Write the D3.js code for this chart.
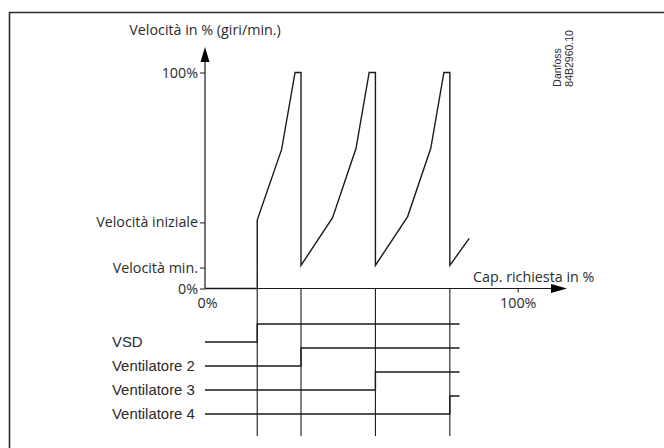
<!DOCTYPE html>
<html><head><meta charset="utf-8">
<script src="https://cdn.jsdelivr.net/npm/d3@7"></script>
<style>
html,body{margin:0;padding:0;background:#fff;}
svg{display:block;}
</style></head>
<body>
<svg id="chart" width="664" height="448"></svg>
<script>
// ---- data ----
const speedX = [0, 16.7, 16.7, 24.5, 28.8, 30.7, 30.7, 40.8, 48.3, 52.5, 54.5, 54.5, 64.8, 72.2, 76.4, 78.3, 78.3, 84.5];
const speedY = [0, 0, 31.7, 64.4, 100, 100, 10.7, 32.8, 64.9, 100, 100, 10.7, 33.3, 64.9, 100, 100, 10.7, 23.2];
const yTickValues = [0, 9.7, 30.6, 100];
const yTickLabels = ["0%", "Velocità min.", "Velocità iniziale", "100%"];
const xTickValues = [0, 100];
const xTickLabels = ["0%", "100%"];
const rowNames = ["VSD", "Ventilatore 2", "Ventilatore 3", "Ventilatore 4"];
const rowSwitch = [16.7, 30.7, 54.5, 78.3];
const rowEnd = 81.4;
const yTitle = "Velocità in % (giri/min.)";
const xTitle = "Cap. richiesta in %";
const stamp = ["Danfoss", "84B2960.10"];

// ---- drawing ----
const svg = d3.select("#chart");
const ink = "#1a1a1a", txt = "#2b2b2b";
const font1 = "'Open Sans', sans-serif";
const font2 = "'Liberation Sans', Arial, sans-serif";
const fs1 = 14.3, fs2 = 14.9;

// frame
svg.append("path").attr("d", "M9.5,448V12.5H664").attr("fill", "none")
  .attr("stroke", "#2a2a2a").attr("stroke-width", 1.6);

const x = d3.scaleLinear().domain([0, 100]).range([205, 517.7]);
const y = d3.scaleLinear().domain([0, 100]).range([288.5, 72.5]);

// y axis ticks
const yAxis = d3.axisLeft(y).tickValues(yTickValues).tickSize(5).tickPadding(2)
  .tickFormat((d, i) => yTickLabels[i]);
const gy = svg.append("g").attr("transform", `translate(${x(0)},0)`).call(yAxis);
gy.select(".domain").remove();
gy.selectAll("line").attr("stroke", ink).attr("stroke-width", 1);
gy.selectAll("text").attr("font-family", font1).attr("font-size", fs1).attr("fill", txt);

// x axis ticks
const xAxis = d3.axisBottom(x).tickValues(xTickValues).tickSize(4).tickPadding(5)
  .tickFormat((d, i) => xTickLabels[i]);
const gx = svg.append("g").attr("transform", `translate(0,${y(0)})`).call(xAxis);
gx.select(".domain").remove();
gx.selectAll("line").attr("stroke", ink).attr("stroke-width", 1);
gx.selectAll(".tick").filter(d => d === 0).select("line").remove();
gx.selectAll("text").attr("font-family", font1).attr("font-size", fs1).attr("fill", txt);
gx.selectAll(".tick").filter(d => d === 0).select("text").attr("x", 2);

// axis lines with arrows
svg.append("line").attr("x1", x(0)).attr("x2", x(0)).attr("y1", y(0)).attr("y2", 60)
  .attr("stroke", ink).attr("stroke-width", 1.2);
svg.append("path").attr("d", `M${x(0)},47L${x(0) - 4.5},62L${x(0) + 4.5},62Z`).attr("fill", "#000");
svg.append("line").attr("x1", x(0)).attr("x2", 554).attr("y1", y(0)).attr("y2", y(0))
  .attr("stroke", ink).attr("stroke-width", 1.2);
svg.append("path").attr("d", `M567,${y(0)}L551,${y(0) - 4.5}L551,${y(0) + 4.5}Z`).attr("fill", "#000");

// guide lines
svg.append("g").selectAll("line").data(rowSwitch).join("line")
  .attr("x1", d => x(d)).attr("x2", d => x(d)).attr("y1", y(0)).attr("y2", 436)
  .attr("stroke", ink).attr("stroke-width", 1.1);

// speed curve
const pts = speedX.map((v, i) => [x(v), y(speedY[i])]);
svg.append("path").attr("d", d3.line()(pts)).attr("fill", "none")
  .attr("stroke", ink).attr("stroke-width", 1.4).attr("stroke-linejoin", "miter");

// titles
svg.append("text").attr("x", x(0)).attr("y", 35).attr("text-anchor", "middle")
  .attr("font-family", font1).attr("font-size", fs1).attr("fill", txt).text(yTitle);
svg.append("text").attr("x", 473).attr("y", 282)
  .attr("font-family", font1).attr("font-size", fs1).attr("fill", txt).text(xTitle);

// stamp
const st = svg.append("g").attr("font-family", font2).attr("font-size", 10.5).attr("fill", txt);
stamp.forEach((s, i) => {
  st.append("text").attr("transform", `translate(${561 + i * 12.3},86.7) rotate(-90)`).text(s);
});

// staircase rows
const ry = d3.scalePoint().domain(rowNames).range([342, 414]);
const rows = svg.append("g");
rowNames.forEach((n, i) => {
  const yy = ry(n);
  rows.append("path")
    .attr("d", `M${x(0)},${yy}H${x(rowSwitch[i])}V${yy - 18}H${x(rowEnd)}`)
    .attr("fill", "none").attr("stroke", ink).attr("stroke-width", 1.4);
  rows.append("text").attr("x", 112).attr("y", yy).attr("dy", "0.36em")
    .attr("font-family", font2).attr("font-size", fs2).attr("fill", txt).text(n);
});
</script>
</body></html>
